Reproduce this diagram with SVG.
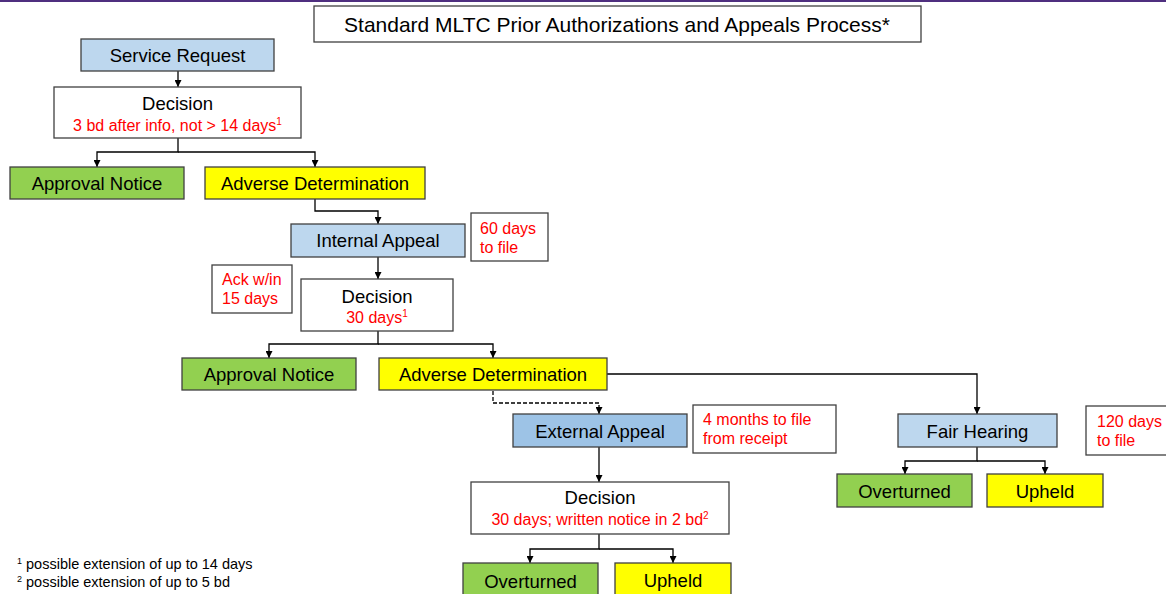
<svg xmlns="http://www.w3.org/2000/svg" width="1166" height="594" viewBox="0 0 1166 594">
<style>
text{font-family:"Liberation Sans",Arial,sans-serif;fill:#000}
.box{stroke:#404040;stroke-width:1.3}
.blue{fill:#bdd7ee}
.blue2{fill:#9dc3e6}
.green{fill:#92d050}
.yellow{fill:#ffff00}
.white{fill:#fff}
.lbl{font-size:18.5px;text-anchor:middle}
.red{fill:#ff0000;font-size:16px}
.redc{fill:#ff0000;font-size:16px;text-anchor:middle}
.foot{font-size:14.5px}
.conn{fill:none;stroke:#000;stroke-width:1.3}
.dash{stroke-dasharray:4,2}
</style>
<defs>
<marker id="ah" viewBox="0 0 10 10" refX="10" refY="5" markerWidth="7" markerHeight="7" markerUnits="userSpaceOnUse" orient="auto">
<path d="M0,0 L10,5 L0,10 z" fill="#000"/>
</marker>
</defs>
<rect x="0" y="0" width="1166" height="594" fill="#fff"/>
<rect x="0" y="0" width="1166" height="2" fill="#4f2f7f"/>

<g id="title">
<rect class="box white" x="314" y="6" width="607" height="36"/>
<text x="617" y="32" style="font-size:21px" text-anchor="middle">Standard MLTC Prior Authorizations and Appeals Process*</text>
</g>

<g id="connectors">
<path class="conn" d="M178,71 V87" marker-end="url(#ah)"/>
<path class="conn" d="M178,138 V152 H97 V167" marker-end="url(#ah)"/>
<path class="conn" d="M178,152 H315 V167" marker-end="url(#ah)"/>
<path class="conn" d="M315,199 V211 H378 V224" marker-end="url(#ah)"/>
<path class="conn" d="M378,257 V279" marker-end="url(#ah)"/>
<path class="conn" d="M378,331 V344 H269 V358" marker-end="url(#ah)"/>
<path class="conn" d="M378,344 H493 V358" marker-end="url(#ah)"/>
<path class="conn" d="M607,374 H977 V414" marker-end="url(#ah)"/>
<path class="conn dash" d="M493,391 V403 H599 V414" marker-end="url(#ah)"/>
<path class="conn" d="M599,447 V482" marker-end="url(#ah)"/>
<path class="conn" d="M599,534 V549 H530 V563" marker-end="url(#ah)"/>
<path class="conn" d="M599,549 H673 V563" marker-end="url(#ah)"/>
<path class="conn" d="M977,447 V461 H905 V474" marker-end="url(#ah)"/>
<path class="conn" d="M977,461 H1045 V474" marker-end="url(#ah)"/>
</g>

<g id="service-request">
<rect class="box blue" x="81" y="39" width="193" height="32"/>
<text class="lbl" x="177.5" y="61.5">Service Request</text>
</g>

<g id="decision-1">
<rect class="box white" x="54" y="87" width="247" height="51"/>
<text class="lbl" x="177.5" y="110">Decision</text>
<text class="redc" x="177.5" y="131">3 bd after info, not &gt; 14 days<tspan font-size="10" dy="-6">1</tspan></text>
</g>

<g id="approval-notice-1">
<rect class="box green" x="10" y="167" width="174" height="32"/>
<text class="lbl" x="97" y="189.5">Approval Notice</text>
</g>

<g id="adverse-determination-1">
<rect class="box yellow" x="205" y="167" width="220" height="32"/>
<text class="lbl" x="315" y="189.5">Adverse Determination</text>
</g>

<g id="internal-appeal">
<rect class="box blue" x="291" y="224" width="174" height="33"/>
<text class="lbl" x="378" y="247">Internal Appeal</text>
</g>

<g id="note-60-days">
<rect class="box white" x="471" y="213" width="77" height="48"/>
<text class="red" x="480" y="234">60 days</text>
<text class="red" x="480" y="253">to file</text>
</g>

<g id="note-ack">
<rect class="box white" x="212" y="265" width="80" height="48"/>
<text class="red" x="222" y="285">Ack w/in</text>
<text class="red" x="222" y="304">15 days</text>
</g>

<g id="decision-2">
<rect class="box white" x="301" y="279" width="152" height="52"/>
<text class="lbl" x="377" y="303">Decision</text>
<text class="redc" x="377" y="323">30 days<tspan font-size="10" dy="-6">1</tspan></text>
</g>

<g id="approval-notice-2">
<rect class="box green" x="182" y="358" width="174" height="32"/>
<text class="lbl" x="269" y="380.5">Approval Notice</text>
</g>

<g id="adverse-determination-2">
<rect class="box yellow" x="379" y="358" width="228" height="32"/>
<text class="lbl" x="493" y="380.5">Adverse Determination</text>
</g>

<g id="external-appeal">
<rect class="box blue2" x="513" y="414" width="174" height="33"/>
<text class="lbl" x="600" y="437.5">External Appeal</text>
</g>

<g id="note-4-months">
<rect class="box white" x="693" y="405" width="143" height="48"/>
<text class="red" x="703" y="425">4 months to file</text>
<text class="red" x="703" y="444">from receipt</text>
</g>

<g id="decision-3">
<rect class="box white" x="471" y="482" width="258" height="52"/>
<text class="lbl" x="600" y="504">Decision</text>
<text class="redc" x="600" y="525">30 days; written notice in 2 bd<tspan font-size="10" dy="-6">2</tspan></text>
</g>

<g id="overturned-1">
<rect class="box green" x="463" y="563" width="135" height="40"/>
<text class="lbl" x="530.5" y="588">Overturned</text>
</g>

<g id="upheld-1">
<rect class="box yellow" x="615" y="563" width="116" height="40"/>
<text class="lbl" x="673" y="587">Upheld</text>
</g>

<g id="fair-hearing">
<rect class="box blue" x="898" y="414" width="159" height="33"/>
<text class="lbl" x="977.5" y="437.5">Fair Hearing</text>
</g>

<g id="note-120-days">
<rect class="box white" x="1086" y="406" width="82" height="49"/>
<text class="red" x="1097" y="427">120 days</text>
<text class="red" x="1097" y="446">to file</text>
</g>

<g id="overturned-2">
<rect class="box green" x="837" y="474" width="135" height="33"/>
<text class="lbl" x="904.5" y="497.5">Overturned</text>
</g>

<g id="upheld-2">
<rect class="box yellow" x="987" y="474" width="116" height="33"/>
<text class="lbl" x="1045" y="497.5">Upheld</text>
</g>

<g id="footnotes">
<text class="foot" x="17" y="569"><tspan font-size="9" dy="-5">1</tspan><tspan dy="5"> possible extension of up to 14 days</tspan></text>
<text class="foot" x="17" y="587"><tspan font-size="9" dy="-5">2</tspan><tspan dy="5"> possible extension of up to 5 bd</tspan></text>
</g>
</svg>
